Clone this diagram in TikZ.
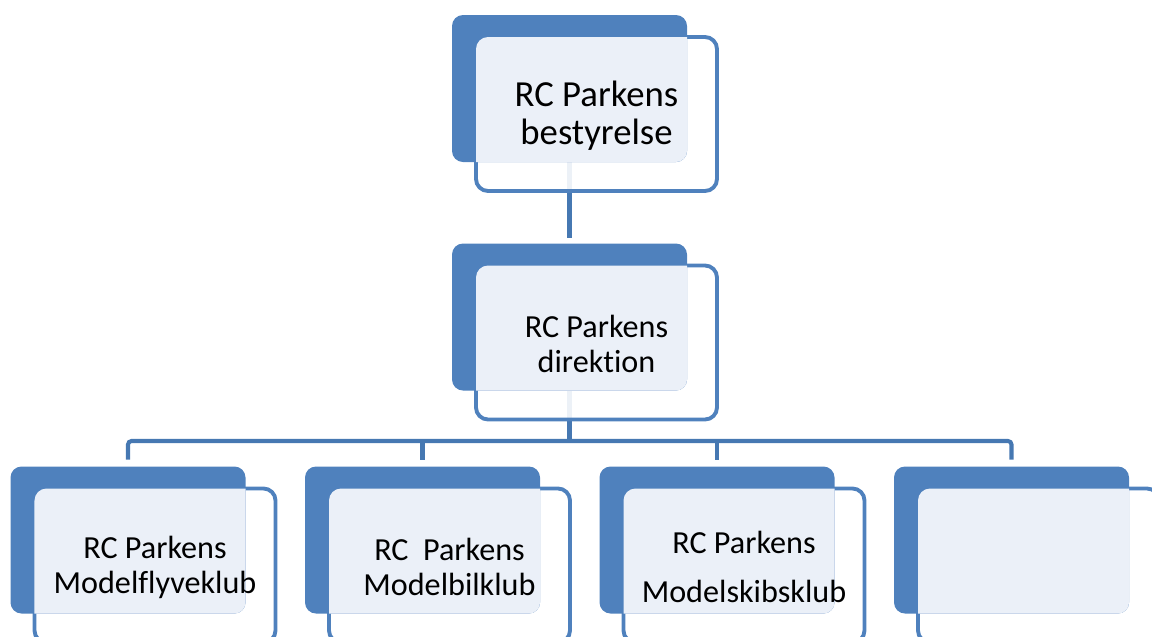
\documentclass[tikz,border=0pt]{standalone}
\usepackage{fontspec}
\setmainfont{Carlito}[Ligatures=NoCommon]
\definecolor{main}{RGB}{79,129,189}
\definecolor{second}{RGB}{70,120,178}
\definecolor{third}{RGB}{235,240,248}
\usepackage{tikz}
\usetikzlibrary{
	calc,
	backgrounds % connectors behind boxes
}
\tikzset{
  % box
	cstback/.style   ={fill=main,rounded corners=0.22cm,minimum width=4.7cm,minimum height=2.94cm,inner sep=0pt,outer sep=0pt},
	cstfront/.style  ={fill=white,fill opacity=0.9,draw=main,line width=2.2pt,rounded corners=0.24cm,minimum width=4.82cm,minimum height=3.08cm,inner sep=0pt,outer sep=0pt},
	cstinner/.style  ={fill=third},
	csttext/.style   ={text=black,align=center,inner sep=0pt},
  % connector
	cstlink/.style   ={draw=second,line width=2.3pt},
  % font
	cstbig/.style    ={font=\fontsize{20.9}{21.8}\selectfont},
	cstsmall/.style  ={font=\fontsize{18.3}{20}\selectfont}
}
% #1 name, #2 centre of the back box, #3 font style, #4 text
\newcommand\orgbox[4]{%
	\node[cstfront] (#1-front) at ($(#2)+(0.54,-0.51)$) {};
	\node[cstback] (#1) at (#2) {};
	\begin{scope}
		\clip[rounded corners=0.24cm] (#1-front.south west) rectangle (#1-front.north east);
		\fill[cstinner,rounded corners=0.22cm] (#1.south west) rectangle (#1.north east);
	\end{scope}
	\node[csttext,#3] (#1-text) at ($(#1-front)+(0,-0.03)$) {#4};
}

\begin{document}
\begin{tikzpicture}
	\useasboundingbox (0,0) rectangle (23.04,-12.72);
	\clip (0,0) rectangle (23.04,-12.72);
	\orgbox{bestyrelse}{11.39,-1.77}{cstbig}{RC Parkens\\bestyrelse}
	\orgbox{direktion}{11.39,-6.34}{cstsmall}{RC Parkens\\direktion}
	\orgbox{flyveklub}{2.56,-10.8}{cstsmall}{RC Parkens\\Modelflyveklub}
	\orgbox{bilklub}{8.45,-10.8}{cstsmall}{RC\ \ Parkens\\Modelbilklub}
	\orgbox{skibsklub}{14.34,-10.8}{cstsmall}{RC Parkens\\[0.26cm]Modelskibsklub}
	\orgbox{tom}{20.23,-10.8}{cstsmall}{}
	\coordinate (bus) at (11.39,-8.82);
	\begin{scope}[on background layer]
		\draw[cstlink] (bestyrelse.south) -- ([yshift=1.2mm]direktion.north);
		\draw[cstlink] (direktion.south) -- (bus);
		\draw[cstlink,rounded corners=2pt] ([yshift=1.4mm]flyveklub.north) |- (bus) -| ([yshift=1.4mm]tom.north);
		\draw[cstlink] (bus -| bilklub.north) -- ([yshift=1.4mm]bilklub.north);
		\draw[cstlink] (bus -| skibsklub.north) -- ([yshift=1.4mm]skibsklub.north);
	\end{scope}
\end{tikzpicture}
\end{document}
